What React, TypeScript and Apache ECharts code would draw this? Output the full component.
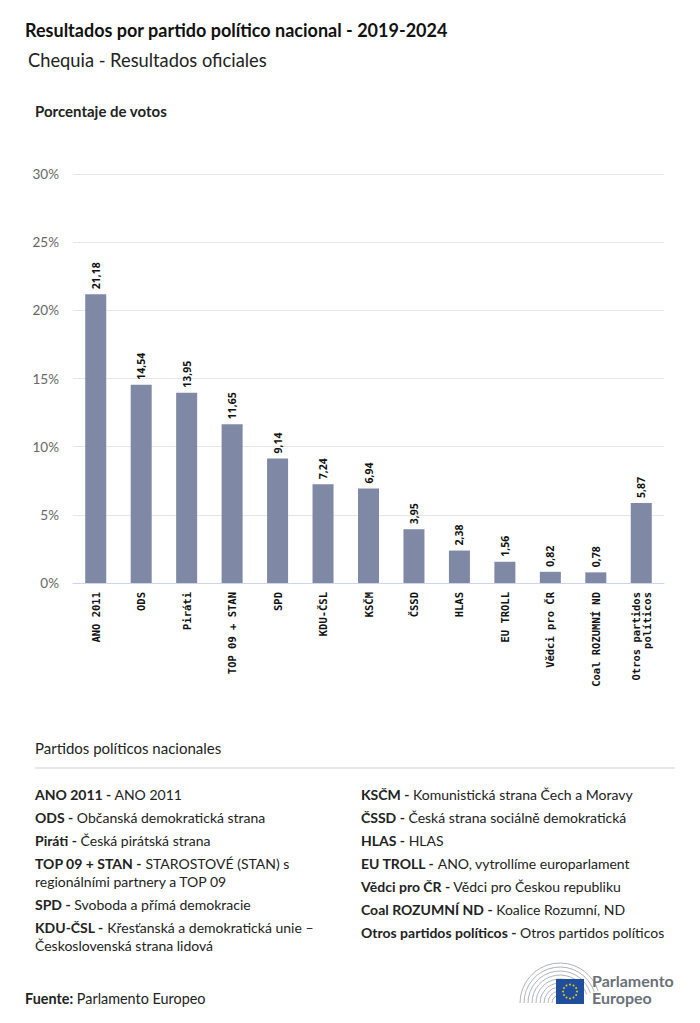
import React, { useEffect, useRef } from "react";
import * as echarts from "echarts";

const categories = [
  "ANO 2011", "ODS", "Piráti", "TOP 09 + STAN", "SPD", "KDU-ČSL", "KSČM",
  "ČSSD", "HLAS", "EU TROLL", "Vědci pro ČR", "Coal ROZUMNÍ ND", "Otros partidos\npolíticos",
];
const values = [21.18, 14.54, 13.95, 11.65, 9.14, 7.24, 6.94, 3.95, 2.38, 1.56, 0.82, 0.78, 5.87];
const yTicks = { min: 0, max: 30, interval: 5 };

const legendLeft: [string, string][] = [
  ["ANO 2011", "ANO 2011"],
  ["ODS", "Občanská demokratická strana"],
  ["Piráti", "Česká pirátská strana"],
  ["TOP 09 + STAN", "STAROSTOVÉ (STAN) s\nregionálními partnery a TOP 09"],
  ["SPD", "Svoboda a přímá demokracie"],
  ["KDU-ČSL", "Křesťanská a demokratická unie –\nČeskoslovenská strana lidová"],
];
const legendRight: [string, string][] = [
  ["KSČM", "Komunistická strana Čech a Moravy"],
  ["ČSSD", "Česká strana sociálně demokratická"],
  ["HLAS", "HLAS"],
  ["EU TROLL", "ANO, vytrollíme europarlament"],
  ["Vědci pro ČR", "Vědci pro Českou republiku"],
  ["Coal ROZUMNÍ ND", "Koalice Rozumní, ND"],
  ["Otros partidos políticos", "Otros partidos políticos"],
];

const FONT = "Lato";

function legendTexts(items: [string, string][], x: number, y0: number) {
  const out: any[] = [];
  let y = y0;
  items.forEach(([k, v]) => {
    const lines = v.split("\n");
    out.push({
      type: "text",
      x,
      y,
      style: {
        text: `{b|${k} -} ${lines[0]}`,
        font: `14px ${FONT}`,
        fill: "#222",
        verticalAlign: "middle",
        rich: { b: { fontWeight: "bold", fontSize: 14, fontFamily: FONT, fill: "#222" } },
      },
    });
    for (let i = 1; i < lines.length; i++) {
      y += 18;
      out.push({
        type: "text",
        x,
        y,
        style: { text: lines[i], font: `14px ${FONT}`, fill: "#222", verticalAlign: "middle" },
      });
    }
    y += 23;
  });
  return out;
}

function logo() {
  const els: any[] = [];
  for (let r = 8; r <= 40; r += 4) {
    els.push({
      type: "arc",
      shape: { cx: 560, cy: 1003, r, startAngle: Math.PI, endAngle: Math.PI * 1.9, clockwise: true },
      style: { stroke: "#b0b3b8", lineWidth: 1, fill: "none" },
    });
  }
  els.push({ type: "rect", shape: { x: 556, y: 979, width: 28, height: 25 }, style: { fill: "#1f4f9c" } });
  for (let i = 0; i < 12; i++) {
    const a = (i / 12) * Math.PI * 2;
    els.push({
      type: "circle",
      shape: { cx: 570 + Math.cos(a) * 7, cy: 991.5 + Math.sin(a) * 7, r: 0.9 },
      style: { fill: "#f5d20a" },
    });
  }
  els.push({
    type: "text", x: 592, y: 989,
    style: {
      text: "Parlamento\nEuropeo",
      font: `bold 16px ${FONT}`,
      lineHeight: 17,
      fill: "#6b7079",
      verticalAlign: "middle",
    },
  });
  return els;
}

export default function App() {
  const ref = useRef<HTMLDivElement>(null);
  useEffect(() => {
    if (!ref.current) return;
    const chart = echarts.init(ref.current, undefined, { renderer: "svg" });
    chart.setOption({
      animation: false,
      backgroundColor: "#fff",
      grid: { left: 73, right: 36, top: 174, bottom: 440, containLabel: false },
      xAxis: {
        type: "category",
        data: categories,
        axisLine: { show: true, lineStyle: { color: "#ccd6eb", width: 1 } },
        axisTick: { show: false },
        axisLabel: {
          rotate: 90,
          interval: 0,
          margin: 9,
          fontFamily: "DejaVu Sans Mono",
          fontSize: 10.5,
          fontWeight: "bold",
          color: "#111",
          lineHeight: 11,
        },
      },
      yAxis: {
        type: "value",
        min: yTicks.min,
        max: yTicks.max,
        interval: yTicks.interval,
        axisLine: { show: false },
        axisTick: { show: false },
        splitLine: { lineStyle: { color: "#e6e6e6", width: 1 } },
        axisLabel: {
          formatter: "{value}%",
          color: "#666",
          fontFamily: FONT,
          fontSize: 13.5,
          margin: 14,
        },
      },
      series: [
        {
          type: "bar",
          data: values,
          barWidth: 21,
          itemStyle: { color: "#7f88a4" },
          label: {
            show: true,
            position: "top",
            rotate: 90,
            align: "left",
            verticalAlign: "middle",
            distance: 5,
            fontFamily: "Noto Sans",
            fontWeight: "bold",
            fontSize: 10.5,
            color: "#111",
            formatter: (p: any) => p.value.toFixed(2).replace(".", ","),
          },
        },
      ],
      graphic: [
        {
          type: "text", x: 25, y: 30,
          style: { text: "Resultados por partido político nacional - 2019-2024", font: `bold 18px ${FONT}`, fill: "#111", verticalAlign: "middle" },
        },
        {
          type: "text", x: 28, y: 60,
          style: { text: "Chequia - Resultados oficiales", font: `18.3px ${FONT}`, fill: "#222", verticalAlign: "middle" },
        },
        {
          type: "text", x: 35, y: 111,
          style: { text: "Porcentaje de votos", font: `bold 15px ${FONT}`, fill: "#222", verticalAlign: "middle" },
        },
        {
          type: "text", x: 35, y: 748,
          style: { text: "Partidos políticos nacionales", font: `15px ${FONT}`, fill: "#222", verticalAlign: "middle" },
        },
        {
          type: "line",
          shape: { x1: 35, y1: 768, x2: 675, y2: 768 },
          style: { stroke: "#cfcfcf", lineWidth: 1 },
        },
        ...legendTexts(legendLeft, 35, 794),
        ...legendTexts(legendRight, 361, 794),
        {
          type: "text", x: 25, y: 998,
          style: {
            text: "{b|Fuente:} Parlamento Europeo",
            font: `14.4px ${FONT}`, fill: "#222", verticalAlign: "middle",
            rich: { b: { fontWeight: "bold", fontSize: 14.4, fontFamily: FONT, fill: "#222" } },
          },
        },
        ...logo(),
      ],
    });
    return () => chart.dispose();
  }, []);
  return (
    <div
      ref={ref}
      style={{ position: "absolute", left: 0, top: 0, width: 700, height: 1023 }}
    />
  );
}
